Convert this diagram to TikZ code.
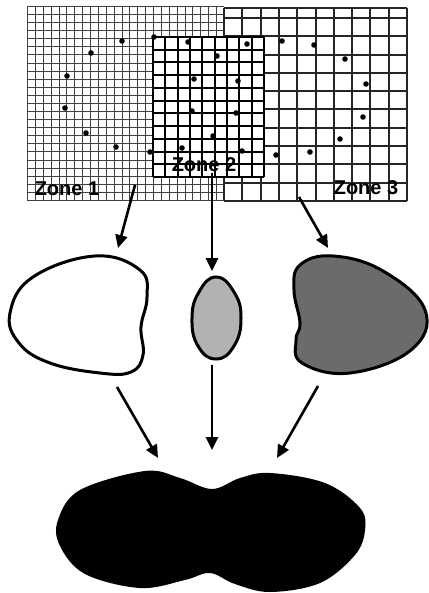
\documentclass[tikz,border=0pt]{standalone}
\usepackage{fontspec}
\setmainfont{Liberation Sans}
\usetikzlibrary{arrows.meta}

\begin{document}
\begin{tikzpicture}[x=1pt, y=-1pt,
  finegrid/.style={line width=1pt, black!75},
  midgrid/.style={line width=1.5pt, black},
  coarsegrid/.style={line width=1.4pt, black!85},
  zonelbl/.style={font=\bfseries\fontsize{20}{22}\selectfont, inner sep=0pt},
  blob/.style={draw, line width=3pt},
  arr/.style={-{Triangle[length=13pt,width=12pt]}, line width=2.6pt},
  sample/.style={fill=black}
]
\useasboundingbox (0,0) rectangle (428,593);

% zone 1 : fine grid
\fill[white] (27,7) rectangle (224,201);
\foreach \i in {0,...,25} {
  \pgfmathsetmacro\gx{round(27+\i*7.88)}
  \draw[finegrid] (\gx,7) -- (\gx,201);
}
\foreach \j in {0,...,24} {
  \pgfmathsetmacro\gy{round(7+\j*8.08)}
  \draw[finegrid] (27,\gy) -- (224,\gy);
}

% zone 3 : coarse grid
\fill[white] (224,8) rectangle (407,201);
\foreach \i in {0,...,10} {
  \pgfmathsetmacro\gx{round(224+\i*18.3)}
  \draw[coarsegrid] (\gx,8) -- (\gx,201);
}
\foreach \j in {0,...,10} {
  \pgfmathsetmacro\gy{round(201-\j*18.3)}
  \draw[coarsegrid] (224,\gy) -- (407,\gy);
}
\draw[coarsegrid] (224,8) -- (407,8);

% zone 2 : medium grid on top
\fill[white] (153,37) rectangle (264,177);
\foreach \i in {0,...,9} {
  \pgfmathsetmacro\gx{round(153+\i*12.33)}
  \draw[midgrid] (\gx,37) -- (\gx,177);
}
\foreach \j in {0,...,11} {
  \pgfmathsetmacro\gy{round(37+\j*12.73)}
  \draw[midgrid] (153,\gy) -- (264,\gy);
}

% sample points
\foreach \p in {(122,41),(91,53),(67,76),(65,108),(86,133),(116,147),(150,152),(154,37),
  (188,42),(217,56),(194,79),(192,111),(213,136),(182,148),(247,44),(238,81),(236,113),(242,151),
  (282,41),(314,45),(345,59),(366,84),(363,117),(340,139),(310,152),(276,155)}
  \fill[sample] \p circle (2.8);

\node[zonelbl] (zone1) at (67,189) {Zone 1};
\node[zonelbl] (zone2) at (204,165) {Zone 2};
\node[zonelbl] (zone3) at (366,188) {Zone 3};

% single zone hulls
\draw[blob, fill=white] plot[smooth cycle, tension=0.7] coordinates {
  (10,313) (33,277) (95,256) (140,270) (147,297) (141,327) (143,355) (131,372) (100,373) (50,363) (19,343)};
\draw[blob, fill=black!30] plot[smooth cycle, tension=0.8] coordinates {
  (216,277) (234,292) (241,318) (234,346) (216,359) (198,346) (192,318) (199,292)};
\draw[blob, fill=black!58] plot[smooth cycle, tension=0.7] coordinates {
  (300,265) (333,256) (383,271) (425,310) (411,350) (350,373) (302,363) (296,340) (300,323) (294,290)};

% merged hull
\fill[black] plot[smooth cycle, tension=0.6] coordinates {
  (58,520) (80,490) (145,471) (180,478) (212,489) (240,478) (270,473) (325,483) (360,508) (365,530)
  (355,555) (320,583) (270,592) (235,584) (210,573) (185,580) (140,588) (85,574) (60,546)};

\coordinate (a1s) at (135,185);
\coordinate (a1e) at (118,248);
\coordinate (a2s) at (212,173);
\coordinate (a2e) at (212,271);
\coordinate (a3s) at (299,197);
\coordinate (a3e) at (328,248);
\coordinate (b1s) at (117,387);
\coordinate (b1e) at (158,458);
\coordinate (b2s) at (212,365);
\coordinate (b2e) at (212,450);
\coordinate (b3s) at (318,386);
\coordinate (b3e) at (277,458);

\draw[arr] (a1s) -- (a1e);
\draw[arr] (a2s) -- (a2e);
\draw[arr] (a3s) -- (a3e);
\draw[arr] (b1s) -- (b1e);
\draw[arr] (b2s) -- (b2e);
\draw[arr] (b3s) -- (b3e);

\end{tikzpicture}
\end{document}
